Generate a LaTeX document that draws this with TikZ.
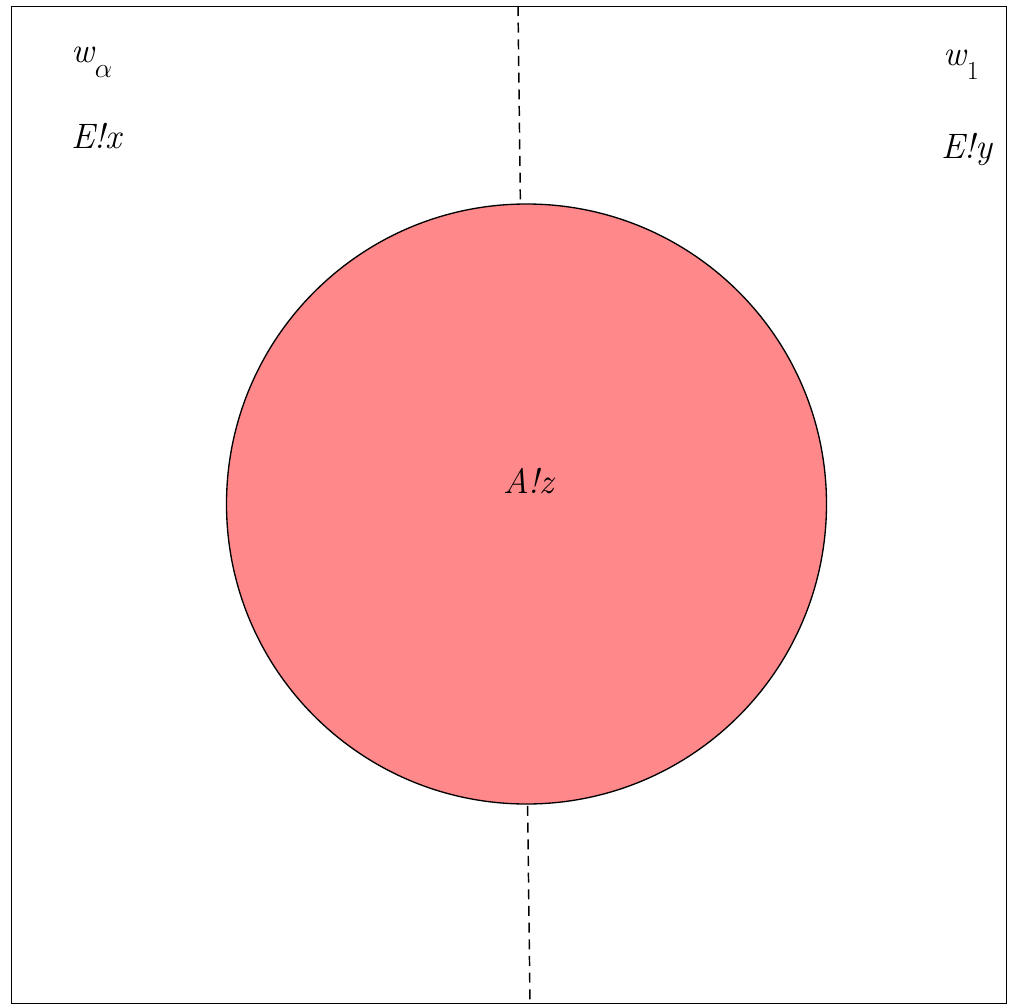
\documentclass[tikz,border=0pt]{standalone}
\begin{document}
\begin{tikzpicture}[x=0.75pt,y=-0.75pt,
  lbl/.style={inner sep=0pt,font=\fontsize{26.5}{32}\selectfont\itshape},
  subs/.style={inner sep=0pt,font=\fontsize{19.5}{24}\selectfont}]
\useasboundingbox (0,0) rectangle (1011,1006);
\node[draw,line width=1.1pt,minimum width=995pt*0.75,minimum height=997pt*0.75,inner sep=0pt,anchor=north west] (frame) at (11,6) {};
\coordinate (dtop) at (518,6);
\coordinate (dbot) at (530,1003);
\draw[line width=1.1pt,dash pattern=on 7.5pt off 5pt] (dtop) -- (dbot);
\node[circle,draw,line width=1pt,fill={rgb,255:red,255;green,136;blue,139},minimum size=600*0.75pt,inner sep=0pt] (c) at (526.5,504) {};
\node[lbl,anchor=base west] (az) at (503,493) {A!z};
\node[lbl,anchor=base west] (wa) at (71,63) {w};
\node[subs,anchor=base west] (wasub) at ([yshift=-11pt]wa.base east) {$\alpha$};
\node[lbl,anchor=base west] (ex) at (71,148) {E!x};
\node[lbl,anchor=base west] (w1) at (943,66) {w};
\node[subs,anchor=base west] (w1sub) at ([yshift=-10pt]w1.base east) {1};
\node[lbl,anchor=base west] (ey) at (941,158) {E!y};
\end{tikzpicture}
\end{document}
